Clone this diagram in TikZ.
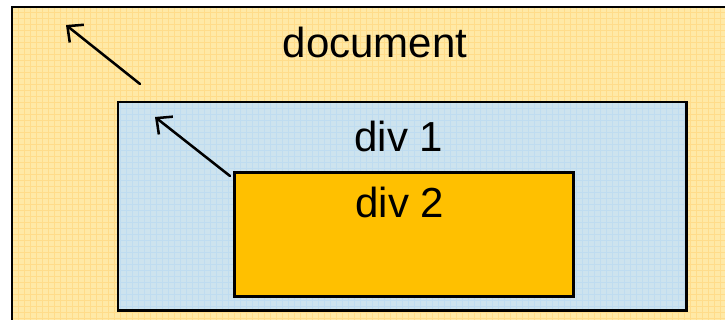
\documentclass[tikz,border=0pt]{standalone}
\usepackage{fontspec}
\setmainfont{Liberation Sans}
\usetikzlibrary{arrows.meta}
\definecolor{docfill}{HTML}{FFE9A6}
\definecolor{docgrid}{HTML}{FFDC8A}
\definecolor{onefill}{HTML}{CDE3EE}
\definecolor{onegrid}{HTML}{BFDCF0}
\definecolor{twofill}{HTML}{FFC000}
\tikzset{
  box/.style={draw=black, line width=1.9pt},
  label/.style={anchor=base, inner sep=0pt, font=\fontsize{31.5}{38}\selectfont},
  parentarrow/.style={line width=1.9pt, line cap=round, -{Straight Barb[length=9pt,width=17pt,line width=1.9pt]}},
}
\begin{document}
\begin{tikzpicture}[x=0.75pt, y=-0.75pt]
  \useasboundingbox (0,0) rectangle (725,320);
  % page background
  \fill[white] (0,0) rectangle (725,320);
  % document area with a faint grid texture
  \fill[docfill] (12,7) rectangle (730,325);
  \begin{scope}
    \clip (12,7) rectangle (730,325);
    \draw[docgrid, line width=0.5pt, step=4.5pt] (12,7) grid (730,325);
  \end{scope}
  \draw[box] (730,7) -- (12,7) -- (12,325);
  % div 1
  \node[fill=onefill, minimum width=426pt, minimum height=156pt, anchor=north west, inner sep=0pt] (div1) at (118,102) {};
  \begin{scope}
    \clip (118,102) rectangle (686,310);
    \draw[onegrid, line width=0.5pt, step=4.5pt] (118,102) grid (686,310);
  \end{scope}
  \draw[box] (div1.north west) rectangle (div1.south east);
  % div 2
  \node[box, fill=twofill, minimum width=254.25pt, minimum height=93pt, anchor=north west, inner sep=0pt] (div2) at (233,171) {};
  % labels
  \node[label] (doclabel) at (375,58) {document};
  \node[label] (onelabel) at (399,152) {div 1};
  \node[label] (twolabel) at (400,218) {div 2};
  % arrows pointing to the enclosing element
  \coordinate (docpt) at (66,25);
  \coordinate (onept) at (155,117);
  \draw[parentarrow] ([shift={(22,-18)}]div1.north west) -- (docpt);
  \draw[parentarrow] ([shift={(-3,5)}]div2.north west) -- (onept);
\end{tikzpicture}
\end{document}
